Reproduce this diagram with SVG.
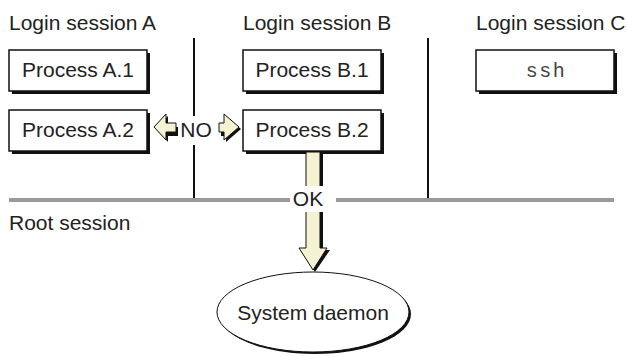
<svg xmlns="http://www.w3.org/2000/svg" width="627" height="356" viewBox="0 0 627 356">
  <defs>
    <style>
      .lbl { font-family: "Liberation Sans", Arial, sans-serif; font-size: 21px; fill: #222; }
      .mid { text-anchor: middle; }
      .mono { font-family: "Liberation Mono", "DejaVu Sans Mono", monospace; font-size: 20px; fill: #444; letter-spacing: 1.5px; text-anchor: middle; }
      .box { fill: #fff; stroke: #111; stroke-width: 1.5; }
      .shadow { fill: #111; }
      .divider { stroke: #111; stroke-width: 2; fill: none; }
      .root { stroke: #999; stroke-width: 4; fill: none; }
      .arrow { fill: #f4f2d2; stroke: #111; stroke-width: 1; }
    </style>
  </defs>

  <rect width="627" height="356" fill="#fff"/>

  <!-- session dividers and root session line -->
  <g id="boundaries">
    <line class="divider" x1="194" y1="38" x2="194" y2="116"/>
    <line class="divider" x1="194" y1="145" x2="194" y2="198"/>
    <line class="divider" x1="428" y1="38" x2="428" y2="198"/>
    <line class="root" x1="9" y1="200" x2="290" y2="200"/>
    <line class="root" x1="336" y1="200" x2="614" y2="200"/>
  </g>

  <!-- session labels -->
  <text class="lbl" x="9" y="30">Login session A</text>
  <text class="lbl" x="243" y="30">Login session B</text>
  <text class="lbl" x="476" y="30">Login session C</text>
  <text class="lbl" x="9" y="230">Root session</text>

  <g id="processA1">
    <rect class="shadow" x="12" y="53" width="138" height="41"/>
    <rect class="box" x="9" y="50" width="138" height="41"/>
    <text class="lbl mid" x="78" y="77">Process A.1</text>
  </g>
  <g id="processA2">
    <rect class="shadow" x="12" y="113" width="138" height="41"/>
    <rect class="box" x="9" y="110" width="138" height="41"/>
    <text class="lbl mid" x="78" y="137">Process A.2</text>
  </g>
  <g id="processB1">
    <rect class="shadow" x="246" y="53" width="138" height="41"/>
    <rect class="box" x="243" y="50" width="138" height="41"/>
    <text class="lbl mid" x="312" y="77">Process B.1</text>
  </g>
  <g id="processB2">
    <rect class="shadow" x="246" y="113" width="138" height="41"/>
    <rect class="box" x="243" y="110" width="138" height="41"/>
    <text class="lbl mid" x="312" y="137">Process B.2</text>
  </g>
  <g id="ssh">
    <rect class="shadow" x="479" y="53" width="138" height="41"/>
    <rect class="box" x="476" y="50" width="138" height="41"/>
    <text class="mono" x="546" y="77">ssh</text>
  </g>
  <g id="systemDaemon">
    <ellipse cx="315" cy="314" rx="96" ry="40" fill="#111"/>
    <ellipse cx="313" cy="312" rx="96" ry="40" fill="#fff" stroke="#111" stroke-width="1"/>
    <text class="lbl mid" x="313" y="320">System daemon</text>
  </g>

  <g id="connectors">
    <!-- NO: blocked between A.2 and B.2 -->
    <polygon class="shadow" points="156,129 168,116 168,127 178,127 178,136 168,136 168,142"/>
    <polygon class="arrow" points="154,127 166,114 166,123 176,123 176,132 166,132 166,140"/>
    <polygon class="shadow" points="221,127 226,127 226,116 241,129 226,142 226,136 221,136"/>
    <polygon class="arrow" points="219,123 224,123 224,114 239,127 224,140 224,132 219,132"/>
    <text class="lbl mid" x="196" y="137">NO</text>

    <!-- OK: B.2 to system daemon -->
    <polygon class="shadow" points="309,153 323,153 323,250 330,250 315,272 301,250 309,250"/>
    <polygon class="arrow" points="306,152 320,152 320,248 327,248 313,270 299,248 306,248"/>
    <rect x="292" y="186" width="42" height="26" fill="#fff"/>
    <text class="lbl mid" x="308" y="206">OK</text>
  </g>
</svg>
